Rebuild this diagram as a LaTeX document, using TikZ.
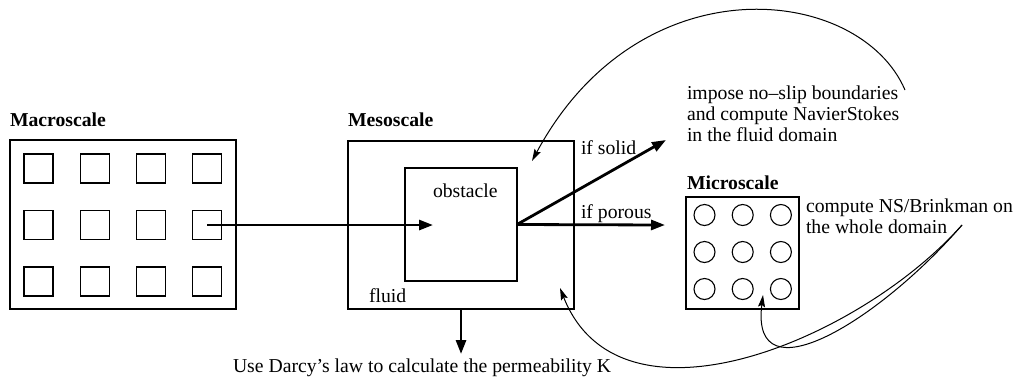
\documentclass[tikz,border=0pt]{standalone}
\usepackage{fontspec}
\setmainfont{Liberation Serif}
\usetikzlibrary{arrows.meta}
\begin{document}
\begin{tikzpicture}[x=1pt,y=-1pt,
  every node/.style={inner sep=0pt, outer sep=0pt},
  box/.style={draw, line width=1.1pt, anchor=north west},
  cell/.style={draw, line width=1.1pt, minimum width=29pt, minimum height=29pt},
  pore/.style={draw, line width=1.1pt, circle, minimum size=21pt},
  lbl/.style={anchor=base west, font=\fontsize{19.7}{21}\selectfont},
  title/.style={anchor=base west, font=\fontsize{19.7}{21}\selectfont\bfseries},
  thick arrow/.style={line width=2.8pt, -{Triangle[length=14pt,width=10pt]}},
  thin arrow/.style={line width=1pt, -{Stealth[length=12pt,width=7pt,inset=2pt]}}
]
\useasboundingbox (0,0) rectangle (1014,376);

% Macroscale
\node[title] (macrot) at (10,126) {Macroscale};
\node[box, minimum width=226pt, minimum height=169pt] (macro) at (10,140) {};
\foreach \i in {0,1,2,3}{
  \foreach \j in {0,1,2}{
    \node[cell] (sq-\i-\j) at ({38.5+56.3*\i},{168.5+56.5*\j}) {};
  }
}

% Mesoscale
\node[title] (mesot) at (348,126) {Mesoscale};
\node[box, minimum width=226pt, minimum height=168pt] (meso) at (348,141) {};
\node[box, minimum width=112pt, minimum height=113pt] (obst) at (405,168) {};
\node[lbl] (obstt) at (433,197) {obstacle};
\node[lbl] (fluidt) at (369,302) {fluid};

% Microscale
\node[title] (microt) at (687,189) {Microscale};
\node[box, minimum width=113pt, minimum height=112pt] (micro) at (686,197) {};
\foreach \i in {0,1,2}{
  \foreach \j in {0,1,2}{
    \node[pore] (c-\i-\j) at ({704.5+38.2*\i},{215+37*\j}) {};
  }
}

% Labels
\node[lbl] (solidt) at (581,154) {if solid};
\node[lbl] (poroust) at (581,218) {if porous};
\node[lbl] (imposet) at (687,99) {\begin{tabular}[t]{@{}l@{}}impose no–slip boundaries\\and compute NavierStokes\\in the fluid domain\end{tabular}};
\node[lbl] (computet) at (806,212) {\begin{tabular}[t]{@{}l@{}}compute NS/Brinkman on\\the whole domain\end{tabular}};
\node[lbl] (darcyt) at (233,372) {Use Darcy’s law to calculate the permeability K};

% Coordinates
\coordinate (tipin) at (433,225);
\coordinate (solidend) at (666,140);
\coordinate (porousend) at (665,225);
\coordinate (darcyend) at (461,354);
\coordinate (noteA) at (905,90);
\coordinate (tipA) at (532,161);
\coordinate (noteB) at (962,225);
\coordinate (tipB) at (560,288);
\coordinate (tipC) at (763,295);

% Thick arrows
\draw[thick arrow] (sq-3-1.center) -- (tipin);
\draw[thick arrow] (obst.east) -- (solidend);
\draw[thick arrow] (obst.east) -- (porousend);
\draw[thick arrow] (meso.south -| obst.center) -- (darcyend);

% Thin curved arrows
\draw[thin arrow] (noteA) .. controls (860,-15) and (640,-40) .. (tipA);
\draw[thin arrow] (noteB) .. controls (860,340) and (620,440) .. (tipB);
\draw[thin arrow] (noteB) .. controls (880,320) and (750,400) .. (tipC);
\end{tikzpicture}
\end{document}
